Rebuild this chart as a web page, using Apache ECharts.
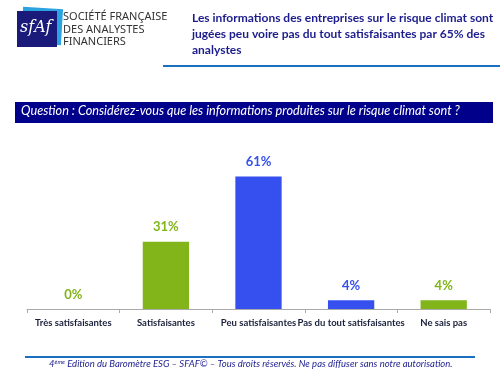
<!DOCTYPE html>
<html lang="fr">
<head>
    <meta charset="UTF-8">
    <title>Baromètre ESG</title>
    <script src="https://cdn.jsdelivr.net/npm/echarts@6/dist/echarts.min.js"></script>
    <style>
        html, body { margin: 0; padding: 0; background: #fff; }
        #chart { width: 500px; height: 375px; }
    </style>
</head>
<body>
    <div id="chart"></div>
</body>
</html>
<script>
    // reponses a la question du barometre
    var categories = ['Très satisfaisantes', 'Satisfaisantes', 'Peu satisfaisantes', 'Pas du tout satisfaisantes', 'Ne sais pas'];
    var values = [0, 31, 61, 4, 4];
    var barColors = ['#82b51a', '#82b51a', '#3550ef', '#3550ef', '#82b51a'];

    var navy = '#1c1c8c';
    var font = 'Lato, "Open Sans", sans-serif';

    var chart = echarts.init(document.getElementById('chart'));
    chart.setOption({
        animation: false,
        textStyle: { fontFamily: font },
        grid: { left: 27, right: 10, top: 157, bottom: 66 },
        xAxis: {
            type: 'category',
            data: categories,
            axisLine: { lineStyle: { color: '#aaaaaa' } },
            axisTick: { show: true, length: 4, lineStyle: { color: '#aaaaaa' } },
            axisLabel: {
                interval: 0,
                margin: 9,
                fontSize: 9.5,
                fontWeight: 'bold',
                color: '#1a1f3a',
                fontFamily: font
            }
        },
        yAxis: {
            type: 'value',
            min: 0,
            max: 70,
            show: false,
            splitLine: { show: false }
        },
        series: [{
            type: 'bar',
            barWidth: '50%',
            data: values.map(function (v, i) {
                return {
                    value: v,
                    itemStyle: { color: barColors[i] },
                    label: { color: barColors[i] }
                };
            }),
            label: {
                show: true,
                position: 'top',
                distance: 8,
                formatter: '{c}%',
                fontSize: 13,
                fontWeight: 'bold',
                fontFamily: font
            }
        }],
        graphic: [
            // logo
            { type: 'rect', shape: { x: 22, y: 8, width: 40, height: 36 }, rotation: -0.06, originX: 42, originY: 26, style: { fill: '#2aa3e0' } },
            { type: 'rect', shape: { x: 17, y: 11, width: 40, height: 36 }, style: { fill: '#1a1a7a' } },
            { type: 'text', left: 20, top: 20, style: { text: 'sfAf', fill: '#ffffff', font: 'italic 16px "DejaVu Serif", serif' } },
            { type: 'text', left: 63, top: 11, style: { text: 'SOCIÉTÉ FRANÇAISE\nDES ANALYSTES\nFINANCIERS', fill: '#333333', font: '11px "Noto Sans", sans-serif', lineHeight: 12.5 } },
            // titre
            { type: 'text', left: 192, top: 10, style: { text: 'Les informations des entreprises sur le risque climat sont\njugées peu voire pas du tout satisfaisantes par 65% des\nanalystes', fill: navy, font: 'bold 12px ' + font, lineHeight: 16 } },
            { type: 'rect', shape: { x: 163, y: 65, width: 337, height: 2 }, style: { fill: '#1a6fc0' } },
            // question
            { type: 'rect', shape: { x: 15, y: 102, width: 478, height: 21 }, style: { fill: '#00008b' } },
            { type: 'text', left: 21, top: 104, style: { text: 'Question : Considérez-vous que les informations produites sur le risque climat sont ?', fill: '#ffffff', font: 'italic 12.7px ' + font } },
            // pied de page
            { type: 'rect', shape: { x: 25, y: 356, width: 450, height: 2 }, style: { fill: '#1a6fc0' } },
            { type: 'text', left: 49, top: 359, style: { text: '{s|4}{sup|ème}{s| Edition du Baromètre ESG – SFAF© – Tous droits réservés. Ne pas diffuser sans notre autorisation.}', rich: { s: { fill: navy, font: 'italic 9.5px ' + font }, sup: { fill: navy, font: 'italic 6px ' + font, verticalAlign: 'top', padding: [0, 0, 4, 0] } } } }
        ]
    });
    window.onresize = chart.resize;
</script>
